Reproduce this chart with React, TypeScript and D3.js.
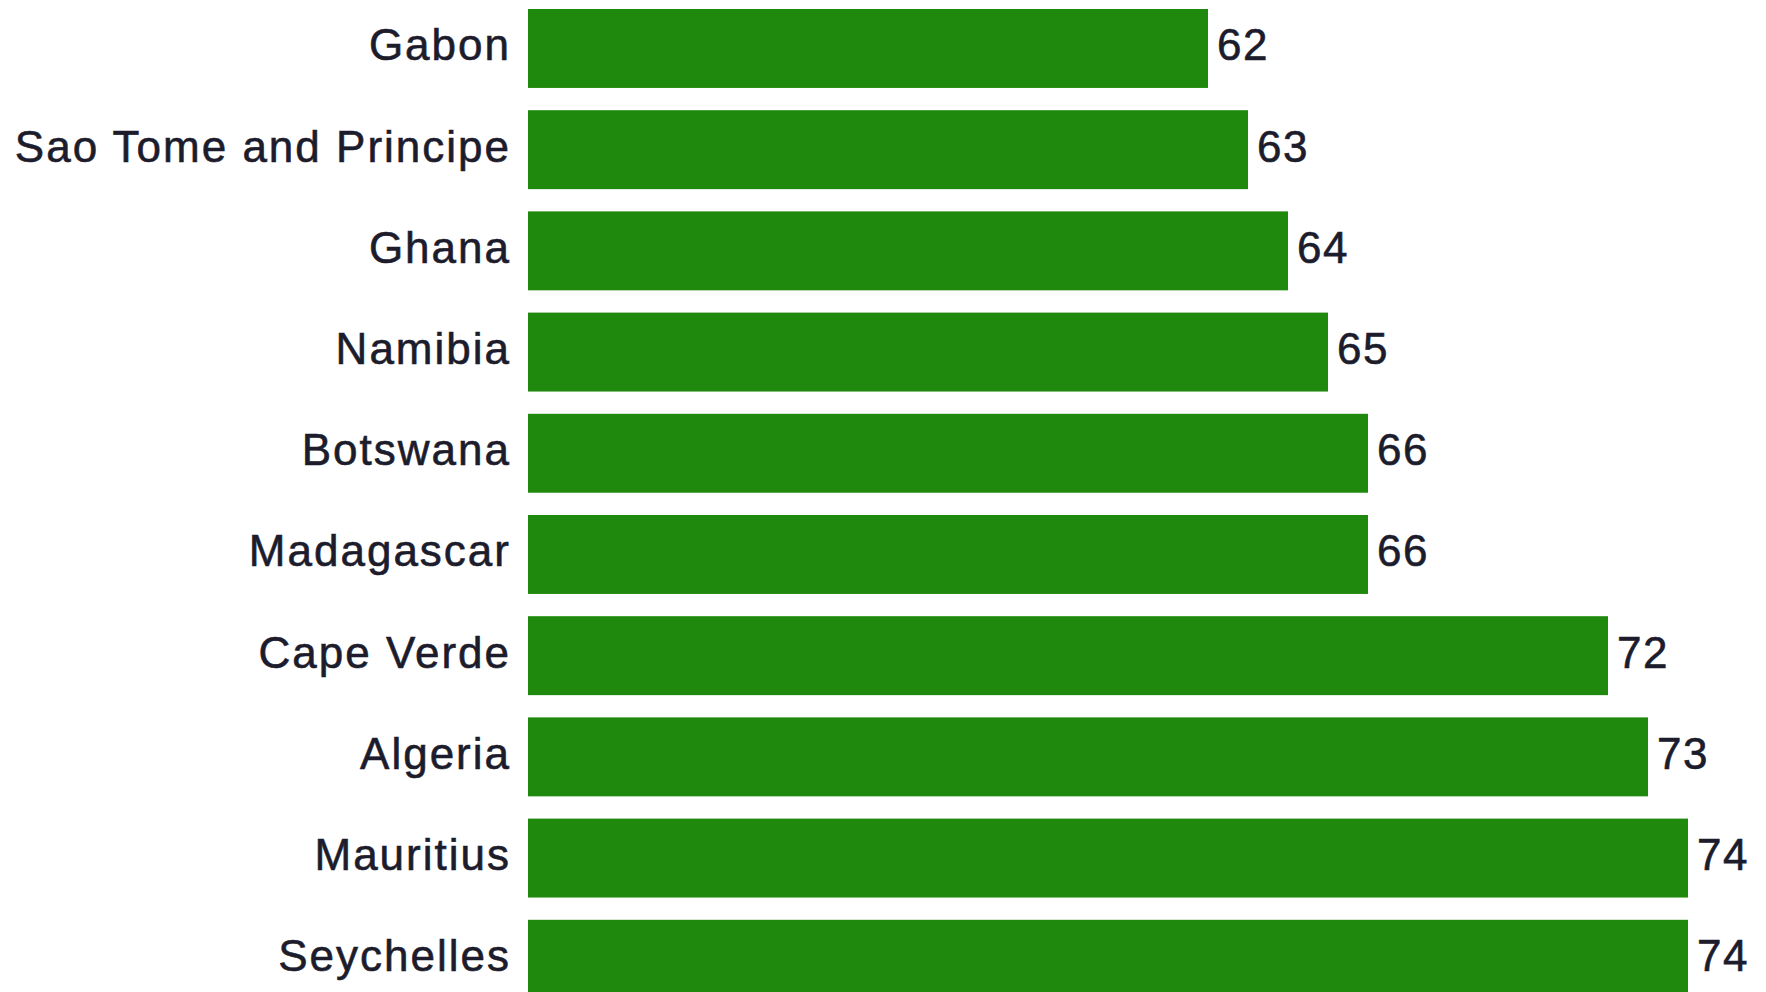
import React from "react";
import * as d3 from "d3";

const countries = [
  "Gabon",
  "Sao Tome and Principe",
  "Ghana",
  "Namibia",
  "Botswana",
  "Madagascar",
  "Cape Verde",
  "Algeria",
  "Mauritius",
  "Seychelles",
];
const values = [62, 63, 64, 65, 66, 66, 72, 73, 74, 74];

const W = 1766;
const H = 992;

export default function App() {
  const x = d3.scaleLinear().domain([45, 74]).range([528, 1688]);
  const y = d3
    .scaleBand<string>()
    .domain(countries)
    .range([9, 9 + 101.2 * (countries.length - 0.22)])
    .paddingInner(0.22)
    .paddingOuter(0);
  const bw = y.bandwidth();
  const font = "'Liberation Sans', Arial, sans-serif";
  return (
    <svg
      width={W}
      height={H}
      style={{ position: "absolute", left: 0, top: 0, display: "block", background: "#fff" }}
    >
      <rect x={0} y={0} width={W} height={H} fill="#ffffff" />
      {countries.map((c, i) => {
        const yy = y(c)!;
        const v = values[i];
        return (
          <g key={c}>
            <rect x={x(45)} y={yy} width={x(v) - x(45)} height={bw} fill="#1e890c" />
            <text
              x={x(45) - 17}
              y={yy + bw / 2 + 12}
              textAnchor="end"
              fontFamily={font}
              fontSize={44}
              letterSpacing={2}
              fill="#1c1c2c"
              stroke="#1c1c2c"
              strokeWidth={0.6}
            >
              {c}
            </text>
            <text
              x={x(v) + 9}
              y={yy + bw / 2 + 12}
              textAnchor="start"
              fontFamily={font}
              fontSize={44}
              letterSpacing={1.5}
              fill="#1c1c2c"
              stroke="#1c1c2c"
              strokeWidth={0.6}
            >
              {v}
            </text>
          </g>
        );
      })}
    </svg>
  );
}
